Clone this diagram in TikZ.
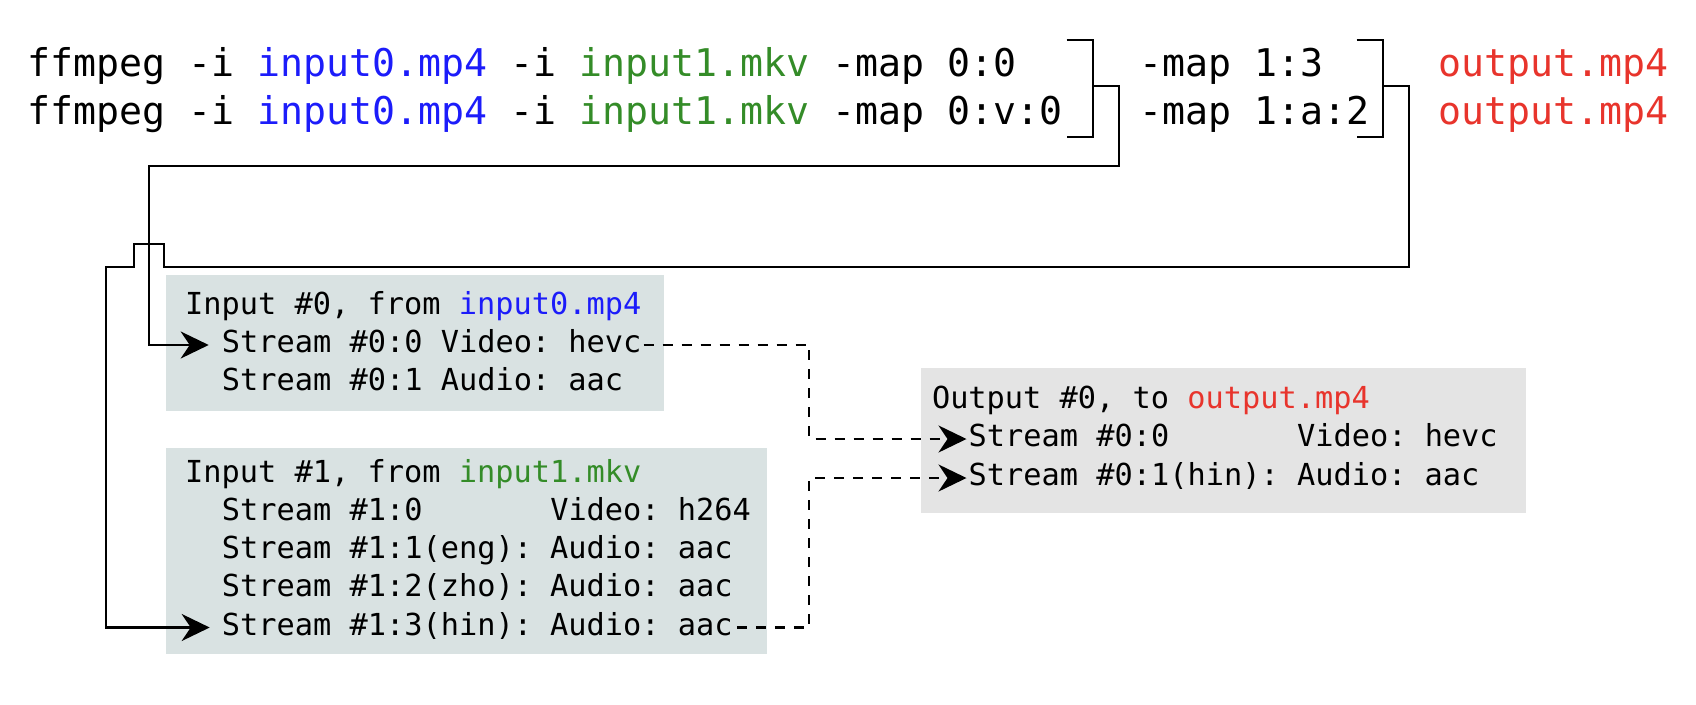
\documentclass[tikz,border=0pt]{standalone}
\usepackage{fontspec}
\usetikzlibrary{arrows.meta,calc}
\newfontfamily\monotop{DejaVu Sans Mono}
\definecolor{cblue}{RGB}{28,28,250}
\definecolor{cgreen}{RGB}{52,140,40}
\definecolor{cred}{RGB}{232,52,44}
\definecolor{inboxfill}{RGB}{217,226,226}
\definecolor{outboxfill}{RGB}{228,228,228}
\frenchspacing
\begin{document}
\begin{tikzpicture}[x=1pt,y=-1pt,
  cmd/.style={anchor=base west, inner sep=0pt, font=\monotop\fontsize{38.2}{46}\selectfont\frenchspacing},
  txt/.style={anchor=base west, inner sep=0pt, text height=22pt, text depth=7pt, font=\monotop\fontsize{30.3}{36}\selectfont\frenchspacing},
  panel/.style={anchor=north west, inner sep=0pt, draw=none},
  conn/.style={line width=2.3pt},
  dashconn/.style={line width=2.3pt, dash pattern=on 10pt off 9pt},
  arrowto/.style={-{Stealth[length=28pt,width=27pt,inset=9pt]}}
]
\useasboundingbox (0,0) rectangle (1696,704);

% panels
\node[panel, fill=inboxfill, minimum width=498.3pt, minimum height=136.4pt] (box0) at (165.7,274.3) {};
\node[panel, fill=inboxfill, minimum width=601pt, minimum height=206.3pt] (box1) at (165.7,447.7) {};
\node[panel, fill=outboxfill, minimum width=605.3pt, minimum height=145pt] (obox) at (920.7,367.7) {};

% command lines
\node[cmd] (l1) at (27,76) {ffmpeg -i \textcolor{cblue}{input0.mp4} -i \textcolor{cgreen}{input1.mkv} -map 0:0};
\node[cmd] (l2) at (27,124) {ffmpeg -i \textcolor{cblue}{input0.mp4} -i \textcolor{cgreen}{input1.mkv} -map 0:v:0};
\node[cmd] (m1) at (1139.3,76) {-map 1:3};
\node[cmd] (m2) at (1139.3,124) {-map 1:a:2};
\node[cmd] (o1) at (1438.3,76) {\textcolor{cred}{output.mp4}};
\node[cmd] (o2) at (1438.3,124) {\textcolor{cred}{output.mp4}};

% brackets
\draw[conn] (1066.7,40) -- (1092.7,40) -- (1092.7,137.3) -- (1066.7,137.3);
\draw[conn] (1356.7,40) -- (1382.7,40) -- (1382.7,137.3) -- (1356.7,137.3);
\coordinate (b1) at (1092.7,86);
\coordinate (b2) at (1382.7,86);

% input 0
\node[txt] (in0) at (185,314.5) {Input \#0, from \textcolor{cblue}{input0.mp4}};
\node[txt] (s00) at (221.7,352.5) {Stream \#0:0 Video: hevc};
\node[txt] (s01) at (221.7,390.7) {Stream \#0:1 Audio: aac};

% input 1
\node[txt] (in1) at (185,482.2) {Input \#1, from \textcolor{cgreen}{input1.mkv}};
\node[txt] (s10) at (221.7,520.4) {Stream \#1:0~~~~~~~Video: h264};
\node[txt] (s11) at (221.7,558.6) {Stream \#1:1(eng): Audio: aac};
\node[txt] (s12) at (221.7,596.8) {Stream \#1:2(zho): Audio: aac};
\node[txt] (s13) at (221.7,635) {Stream \#1:3(hin): Audio: aac};

% output
\node[txt] (out) at (931.8,408) {Output \#0, to \textcolor{cred}{output.mp4}};
\node[txt] (o00) at (968.5,446.5) {Stream \#0:0~~~~~~~Video: hevc};
\node[txt] (o01) at (968.5,485.5) {Stream \#0:1(hin): Audio: aac};

% solid connectors
\draw[conn, arrowto, shorten >=13pt] (b1) -- (1119.3,86) -- (1119.3,165.7) -- (149.3,165.7) |- (s00.west);
\draw[conn, arrowto, shorten >=12pt] (b2) -- (1409.3,86) -- (1409.3,266.7) -- (164,266.7) -- (164,244) -- (134.3,244) -- (134.3,266.7) -- (106,266.7) |- (s13.west);

% dashed connectors
\coordinate (mx) at (809.3,0);
\draw[dashconn, arrowto, shorten <=2pt, shorten >=2pt] (s00.east) -- (s00.east -| mx) -- (o00.west -| mx) -- (o00.west);
\draw[dashconn, arrowto, shorten <=4pt, shorten >=2pt] (s13.east) -- (s13.east -| mx) -- (o01.west -| mx) -- (o01.west);
\end{tikzpicture}
\end{document}
